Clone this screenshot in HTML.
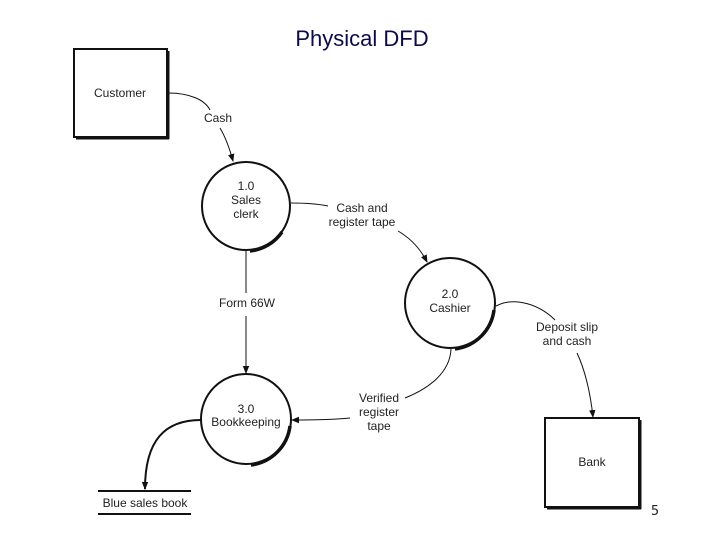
<!DOCTYPE html>
<html><head><meta charset="utf-8"><style>
html,body{margin:0;padding:0;background:#fff;}
svg{display:block;}
text{font-family:"Liberation Sans",Arial,sans-serif;font-size:12px;fill:#222;}
</style></head><body>
<svg width="720" height="540" viewBox="0 0 720 540" xmlns="http://www.w3.org/2000/svg">
<defs>
<marker id="a" markerWidth="8" markerHeight="8" refX="7" refY="4" orient="auto" markerUnits="userSpaceOnUse">
<path d="M0,0.8 L8,4 L0,7.2 Z" fill="#111"/>
</marker>
</defs>
<text x="362" y="46" text-anchor="middle" style="font-size:22px;fill:#0b0b4a">Physical DFD</text>

<!-- Customer -->
<rect x="74" y="49" width="93" height="88" fill="#fff" stroke="#111" stroke-width="2"/>
<line x1="76" y1="138.5" x2="169" y2="138.5" stroke="#111" stroke-width="2"/>
<line x1="168.5" y1="51" x2="168.5" y2="139" stroke="#111" stroke-width="2"/>
<text x="120" y="97" text-anchor="middle">Customer</text>

<!-- Bank -->
<rect x="545" y="418" width="94" height="89" fill="#fff" stroke="#111" stroke-width="2"/>
<line x1="547" y1="508.5" x2="641" y2="508.5" stroke="#111" stroke-width="2"/>
<line x1="640.5" y1="420" x2="640.5" y2="509" stroke="#111" stroke-width="2"/>
<text x="592" y="466" text-anchor="middle">Bank</text>

<!-- circles -->
<circle cx="246" cy="206" r="44" fill="#fff" stroke="#111" stroke-width="2"/>
<path d="M282,232 A44,44 0 0 1 250,251" fill="none" stroke="#111" stroke-width="3.5"/>
<text x="246" y="190" text-anchor="middle">1.0</text>
<text x="246" y="204" text-anchor="middle">Sales</text>
<text x="246" y="218" text-anchor="middle">clerk</text>

<circle cx="450" cy="303" r="45" fill="#fff" stroke="#111" stroke-width="2"/>
<path d="M494,310 A45,45 0 0 1 455,349" fill="none" stroke="#111" stroke-width="3.5"/>
<text x="450" y="298" text-anchor="middle">2.0</text>
<text x="450" y="312" text-anchor="middle">Cashier</text>

<circle cx="246" cy="419" r="45" fill="#fff" stroke="#111" stroke-width="2"/>
<path d="M290,426 A45,45 0 0 1 251,465" fill="none" stroke="#111" stroke-width="3.5"/>
<text x="246" y="413" text-anchor="middle">3.0</text>
<text x="246" y="426" text-anchor="middle">Bookkeeping</text>

<!-- Customer -> 1.0 -->
<path d="M168,93 C190,93 205,100 210,110" fill="none" stroke="#111" stroke-width="1"/>
<text x="218" y="122" text-anchor="middle">Cash</text>
<path d="M220,128 C226,138 230,150 233,161" fill="none" stroke="#111" stroke-width="1" marker-end="url(#a)"/>

<!-- 1.0 -> 2.0 -->
<path d="M291,203 C305,203 318,204 328,206" fill="none" stroke="#111" stroke-width="1"/>
<text x="362" y="212" text-anchor="middle">Cash and</text>
<text x="362" y="226" text-anchor="middle">register tape</text>
<path d="M398,231 C410,238 420,248 427,262" fill="none" stroke="#111" stroke-width="1" marker-end="url(#a)"/>

<!-- 1.0 -> 3.0 -->
<line x1="246" y1="251" x2="246" y2="293" stroke="#111" stroke-width="1"/>
<text x="247" y="307" text-anchor="middle">Form 66W</text>
<line x1="246" y1="316" x2="246" y2="373" stroke="#111" stroke-width="1" marker-end="url(#a)"/>

<!-- 2.0 -> Bank -->
<path d="M496,306 C515,296 540,305 555,320" fill="none" stroke="#111" stroke-width="1"/>
<text x="567" y="331" text-anchor="middle">Deposit slip</text>
<text x="567" y="345" text-anchor="middle">and cash</text>
<path d="M577,353 C585,370 590,390 593,417" fill="none" stroke="#111" stroke-width="1" marker-end="url(#a)"/>

<!-- 2.0 -> 3.0 -->
<path d="M451,349 C450,372 430,388 405,398" fill="none" stroke="#111" stroke-width="1"/>
<text x="379" y="402" text-anchor="middle">Verified</text>
<text x="379" y="416" text-anchor="middle">register</text>
<text x="379" y="430" text-anchor="middle">tape</text>
<path d="M350,418 C330,420 310,420 292,420" fill="none" stroke="#111" stroke-width="1" marker-end="url(#a)"/>

<!-- 3.0 -> Blue sales book -->
<path d="M201,420 C165,420 145,440 145,489" fill="none" stroke="#111" stroke-width="2" marker-end="url(#a)"/>
<line x1="98" y1="491" x2="191" y2="491" stroke="#111" stroke-width="2"/>
<line x1="98" y1="514" x2="191" y2="514" stroke="#111" stroke-width="2"/>
<text x="145" y="507" text-anchor="middle">Blue sales book</text>

<text x="655" y="515" text-anchor="middle" style="font-size:13px;font-family:'DejaVu Sans',sans-serif">5</text>
</svg>
</body></html>
